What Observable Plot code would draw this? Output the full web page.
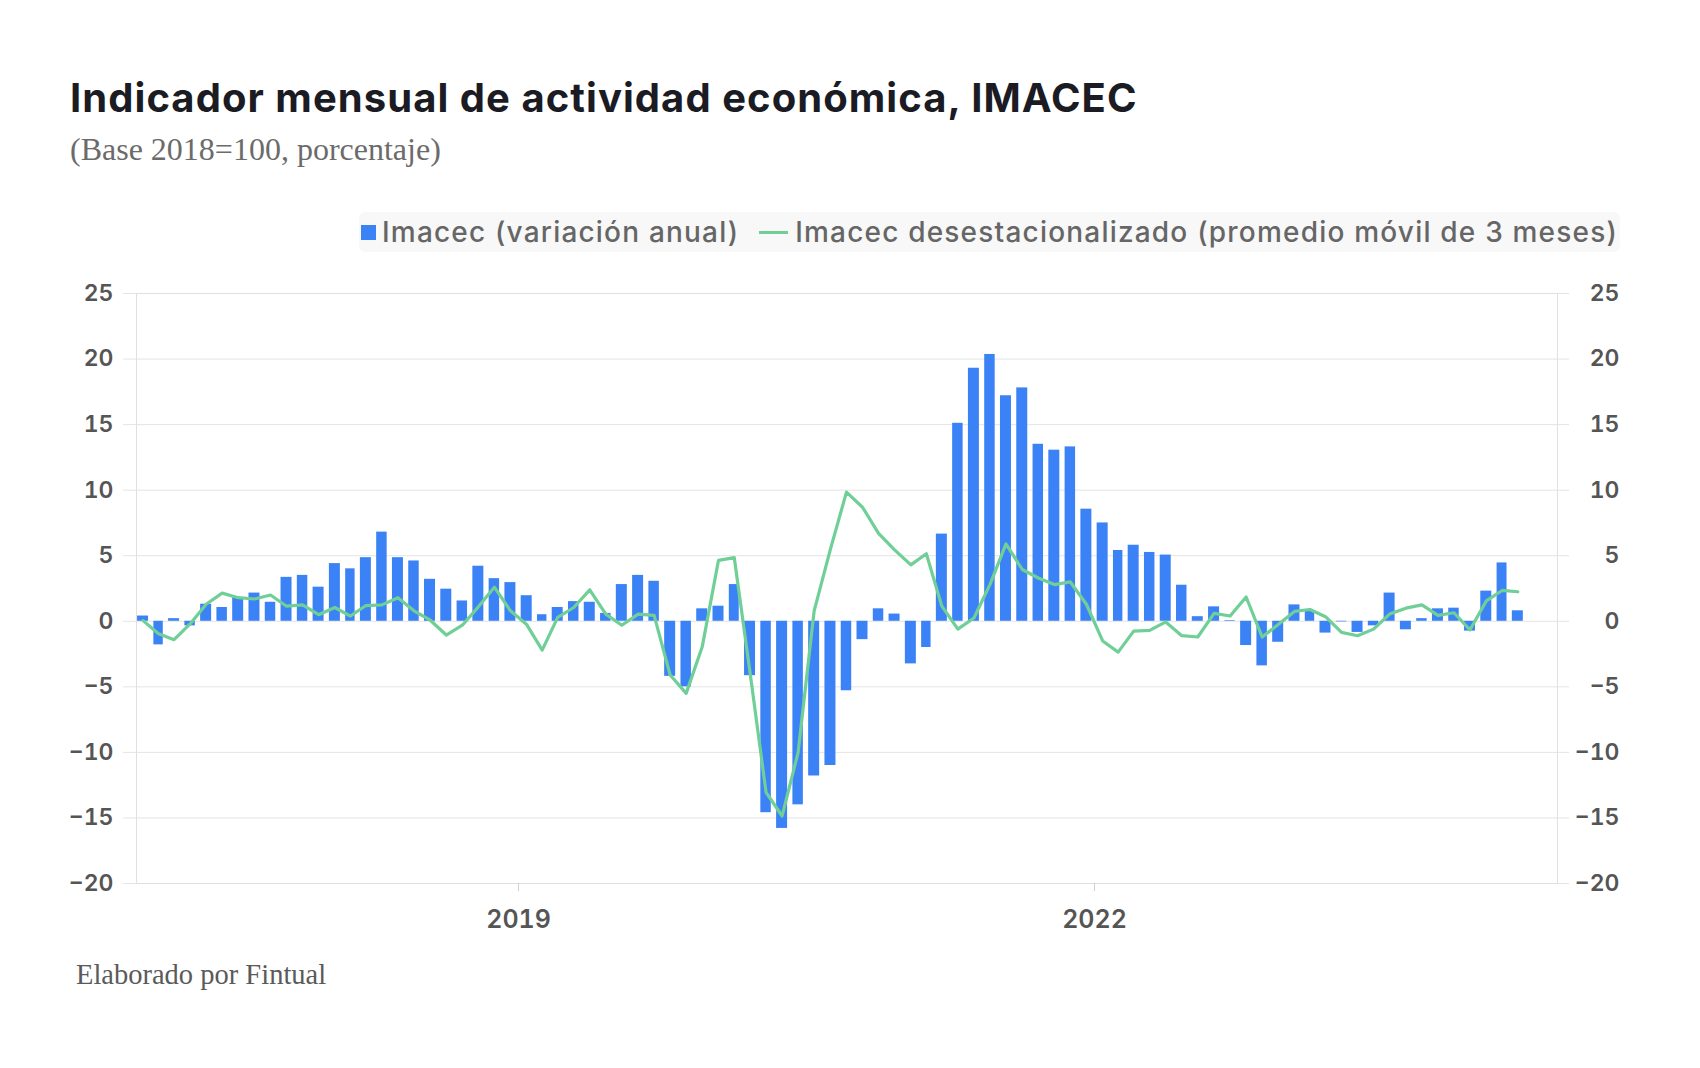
<!DOCTYPE html>
<html>
<head>
<meta charset="utf-8">
<script src="https://cdn.jsdelivr.net/npm/d3@7"></script>
<script src="https://cdn.jsdelivr.net/npm/@observablehq/plot@0.6"></script>
<style>
  html, body { margin: 0; padding: 0; background: #fff; }
  body { width: 1700px; height: 1068px; position: relative; overflow: hidden; }
  .title { position: absolute; left: 70px; top: 78px; font-family: Inter, sans-serif; font-weight: 700; font-size: 40px; line-height: 1; color: #1b1b24; letter-spacing: 1.05px; white-space: nowrap; }
  .subtitle { position: absolute; left: 70px; top: 133px; font-family: "Liberation Serif", serif; font-size: 32px; line-height: 1; color: #6b6b6b; white-space: nowrap; }
  .legend { position: absolute; right: 80px; top: 212px; height: 40px; display: flex; align-items: center; background: #f8f8f8; border-radius: 6px; padding: 0 2px; font-family: Inter, sans-serif; font-weight: 500; font-size: 28px; letter-spacing: 1.2px; color: #666; white-space: nowrap; }
  .sw-bar { width: 15px; height: 15px; background: #3b82f6; margin-right: 6px; }
  .sw-line { width: 29px; height: 3px; background: #6fcf97; margin-left: 20px; margin-right: 7px; }
  .footer { position: absolute; left: 76px; top: 961px; font-family: "Liberation Serif", serif; font-size: 28.5px; line-height: 1; color: #5a5a5a; white-space: nowrap; }
  #chart { position: absolute; left: 0; top: 260px; }
</style>
</head>
<body>
<div class="title">Indicador mensual de actividad económica, IMACEC</div>
<div class="subtitle">(Base 2018=100, porcentaje)</div>
<div class="legend"><span class="sw-bar"></span><span>Imacec (variación anual)</span><span class="sw-line"></span><span>Imacec desestacionalizado (promedio móvil de 3 meses)</span></div>
<div id="chart"></div>
<div class="footer">Elaborado por Fintual</div>
<script>
// Months (one bar per month)
const months = [
  "2017-01","2017-02","2017-03","2017-04","2017-05","2017-06","2017-07","2017-08","2017-09","2017-10","2017-11","2017-12",
  "2018-01","2018-02","2018-03","2018-04","2018-05","2018-06","2018-07","2018-08","2018-09","2018-10","2018-11","2018-12",
  "2019-01","2019-02","2019-03","2019-04","2019-05","2019-06","2019-07","2019-08","2019-09","2019-10","2019-11","2019-12",
  "2020-01","2020-02","2020-03","2020-04","2020-05","2020-06","2020-07","2020-08","2020-09","2020-10","2020-11","2020-12",
  "2021-01","2021-02","2021-03","2021-04","2021-05","2021-06","2021-07","2021-08","2021-09","2021-10","2021-11","2021-12",
  "2022-01","2022-02","2022-03","2022-04","2022-05","2022-06","2022-07","2022-08","2022-09","2022-10","2022-11","2022-12",
  "2023-01","2023-02","2023-03","2023-04","2023-05","2023-06","2023-07","2023-08","2023-09","2023-10","2023-11","2023-12",
  "2024-01","2024-02","2024-03"
];
// Imacec (variación anual), %
const imacecAnual = [
  0.4, -1.8, 0.2, -0.35, 1.3, 1.05, 1.8, 2.15, 1.45, 3.35, 3.5, 2.6,
  4.4, 4.0, 4.85, 6.8, 4.85, 4.6, 3.2, 2.45, 1.55, 4.2, 3.25, 2.95,
  1.95, 0.5, 1.05, 1.5, 1.45, 0.6, 2.8, 3.5, 3.05, -4.2, -5.0, 0.95,
  1.15, 2.8, -4.15, -14.6, -15.8, -14.0, -11.8, -11.0, -5.3, -1.4, 0.95, 0.55,
  -3.25, -2.0, 6.65, 15.1, 19.3, 20.35, 17.2, 17.8, 13.5, 13.05, 13.3, 8.55,
  7.5, 5.4, 5.8, 5.25, 5.05, 2.75, 0.35, 1.1, 0.05, -1.85, -3.4, -1.6,
  1.25, 0.75, -0.9, -0.05, -0.85, -0.35, 2.15, -0.65, 0.2, 0.95, 1.0, -0.75,
  2.3, 4.45, 0.8
];
// Imacec desestacionalizado (promedio móvil de 3 meses), %
const imacecDesest = [
  0.05, -0.95, -1.4, -0.2, 1.3, 2.15, 1.8, 1.7, 2.0, 1.15, 1.25, 0.5,
  1.05, 0.4, 1.2, 1.25, 1.8, 0.8, 0.1, -1.05, -0.3, 1.1, 2.6, 0.8,
  -0.25, -2.2, 0.3, 1.05, 2.4, 0.55, -0.3, 0.55, 0.45, -4.1, -5.5, -1.95,
  4.65, 4.85, -3.9, -13.05, -14.85, -10.0, 0.8, 5.5, 9.85, 8.7, 6.7, 5.45,
  4.3, 5.15, 1.15, -0.6, 0.25, 2.8, 5.9, 3.95, 3.3, 2.8, 3.0, 1.3,
  -1.5, -2.35, -0.75, -0.7, -0.05, -1.1, -1.2, 0.6, 0.4, 1.85, -1.2, -0.25,
  0.75, 0.9, 0.35, -0.85, -1.1, -0.6, 0.55, 1.0, 1.25, 0.45, 0.65, -0.65,
  1.55, 2.35, 2.25
];
const yTicks = [-20, -15, -10, -5, 0, 5, 10, 15, 20, 25];
const xTickYears = ["2019", "2022"];

const data = months.map((m, i) => {
  const start = new Date(m + "-01T00:00:00Z");
  const end = d3.utcMonth.offset(start, 1);
  return { start, end, mid: new Date((+start + +end) / 2), anual: imacecAnual[i], desest: imacecDesest[i] };
});
const xTicks = xTickYears.map(y => new Date(y + "-01-01T00:00:00Z"));

const axisText = { fill: "#555", fontSize: 23, fontWeight: 600 };

const chart = Plot.plot({
  width: 1700,
  height: 700,
  marginLeft: 136,
  marginRight: 143,
  marginTop: 33,
  marginBottom: 77,
  style: { fontFamily: "Inter, sans-serif", background: "transparent", overflow: "visible" },
  x: { type: "utc", domain: [new Date("2017-01-04T00:00:00Z"), new Date("2024-05-31T00:00:00Z")] },
  y: { domain: [-20, 25] },
  marks: [
    Plot.gridY(yTicks, { stroke: "#e4e4e4", strokeOpacity: 1 }),
    Plot.frame({ stroke: "#e0e0e0" }),
    Plot.axisY(yTicks, { anchor: "left", tickSize: 13, tickPadding: 10, stroke: "#e4e4e4", ...axisText, label: null }),
    Plot.axisY(yTicks, { anchor: "right", tickSize: 11, tickPadding: 51, textAnchor: "end", stroke: "#e4e4e4", ...axisText, label: null }),
    Plot.axisX(xTicks, { tickFormat: "%Y", tickSize: 8, tickPadding: 19, stroke: "#d0d0d0", fill: "#555", fontSize: 25, fontWeight: 600, label: null }),
    Plot.rect(data, { x1: "start", x2: "end", y1: 0, y2: "anual", fill: "#3b82f6", insetLeft: 2.65, insetRight: 2.65 }),
    Plot.line(data, { x: "mid", y: "desest", stroke: "#6fcf97", strokeWidth: 3.2, strokeLinejoin: "round" })
  ]
});
document.getElementById("chart").appendChild(chart);
</script>
</body>
</html>
